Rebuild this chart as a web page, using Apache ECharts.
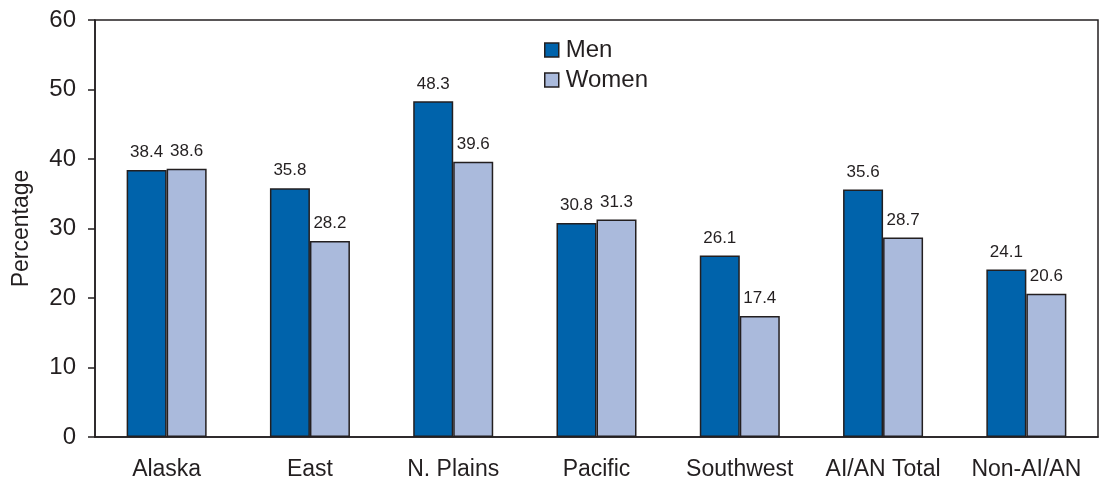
<!DOCTYPE html>
<html>
<head>
<meta charset="utf-8">
<script src="https://cdn.jsdelivr.net/npm/echarts@6/dist/echarts.min.js"></script>
<style>
  html, body { margin: 0; padding: 0; background: #fff; }
  #chart { width: 1102px; height: 485px; }
</style>
</head>
<body>
<div id="chart"></div>
<script>
// data
const regions = ['Alaska', 'East', 'N. Plains', 'Pacific', 'Southwest', 'AI/AN Total', 'Non-AI/AN'];
const menValues = [38.4, 35.8, 48.3, 30.8, 26.1, 35.6, 24.1];
const womenValues = [38.6, 28.2, 39.6, 31.3, 17.4, 28.7, 20.6];
const yTicks = [0, 10, 20, 30, 40, 50, 60];

const chart = echarts.init(document.getElementById('chart'));
const font = 'Liberation Sans, Arial, sans-serif';
const ink = '#231f20';

const barStyle = (color) => ({ color: color, borderColor: ink, borderWidth: 1.5 });
const valueLabel = {
  show: true, position: 'top', distance: 9,
  fontFamily: font, fontSize: 17, color: ink,
  formatter: p => p.value.toFixed(1),
};

chart.setOption({
  animation: false,
  textStyle: { fontFamily: font },
  grid: {
    left: 95, right: 4, top: 20, bottom: 48,
    show: true, borderColor: ink, borderWidth: 1.5,
  },
  legend: {
    orient: 'vertical', left: 539, top: 33,
    itemWidth: 14, itemHeight: 14, itemGap: 6,
    textStyle: { fontFamily: font, fontSize: 24, color: ink, padding: [0, 0, 0, 2] },
    data: [
      { name: 'Men', icon: 'rect', itemStyle: barStyle('#0063ab') },
      { name: 'Women', icon: 'rect', itemStyle: barStyle('#aabadc') },
    ],
  },
  xAxis: {
    type: 'category', data: regions,
    axisLine: { lineStyle: { color: ink, width: 1.5 } },
    axisTick: { alignWithLabel: true, length: 7, lineStyle: { color: ink, width: 1.5 } },
    axisLabel: { fontFamily: font, fontSize: 23, color: ink, margin: 21, interval: 0, hideOverlap: false },
  },
  yAxis: {
    type: 'value', min: yTicks[0], max: yTicks[yTicks.length - 1], interval: 10,
    name: 'Percentage', nameLocation: 'middle', nameGap: 62, nameRotate: 90,
    nameTextStyle: { fontFamily: font, fontSize: 23, color: ink },
    axisLine: { show: true, lineStyle: { color: ink, width: 1.5 } },
    axisTick: { show: true, length: 7, lineStyle: { color: ink, width: 1.5 } },
    axisLabel: { fontFamily: font, fontSize: 24, color: ink, margin: 19 },
    splitLine: { show: false },
  },
  series: [
    { name: 'Men', type: 'bar', data: menValues, barWidth: 40, barGap: '0%',
      itemStyle: barStyle('#0063ab'), label: valueLabel },
    { name: 'Women', type: 'bar', data: womenValues, barWidth: 40,
      itemStyle: barStyle('#aabadc'), label: valueLabel },
  ],
});
</script>
</body>
</html>
